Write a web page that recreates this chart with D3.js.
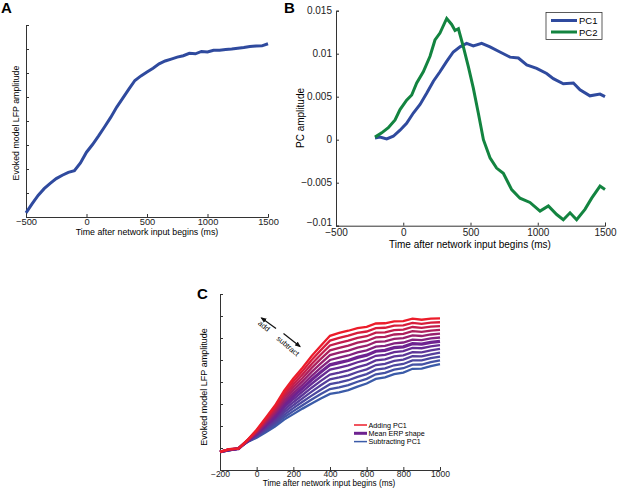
<!DOCTYPE html>
<html>
<head>
<meta charset="utf-8">
<script src="https://cdn.jsdelivr.net/npm/d3@7"></script>
<style>
  body { margin: 0; background: #fff; }
  svg { font-family: "Liberation Sans", Arial, sans-serif; display: block; }
  .axis path, .axis line { stroke: #333; }
  .axis text { fill: #222; }
</style>
</head>
<body>
<svg width="617" height="488"></svg>
<script>
// Panel A: evoked model LFP (arbitrary units, tick steps)
var aTimes  = [-500, -450, -400, -350, -300, -250, -200, -150, -100, -50, 0, 50, 100, 150, 200, 250, 300, 350, 400, 450, 500,
               550, 600, 650, 700, 750, 800, 850, 900, 950, 1000, 1050, 1100, 1150, 1200, 1250, 1300, 1350, 1400, 1450, 1500];
var aValues = [0.17, 0.55, 0.9, 1.18, 1.4, 1.6, 1.74, 1.86, 1.93, 2.25, 2.7, 3.02, 3.38, 3.76, 4.15, 4.58, 4.95, 5.33, 5.69, 5.88, 6.04,
               6.2, 6.38, 6.5, 6.58, 6.66, 6.72, 6.82, 6.8, 6.9, 6.88, 6.95, 6.95, 6.98, 7.0, 7.03, 7.06, 7.1, 7.12, 7.13, 7.22];

// Panel B: principal components
var bTimes = [-210, -173, -123, -74, -24, 25, 75, 125, 174, 224, 273, 323, 372, 422, 471, 521, 583, 645, 719, 794, 856, 918,
              992, 1066, 1116, 1190, 1265, 1314, 1388, 1463, 1500];
var pc1 = [0.0002, 0.0003, 0.0001, 0.0004, 0.0011, 0.0019, 0.0031, 0.0041, 0.0054, 0.0068, 0.0079, 0.0091, 0.0102, 0.0108, 0.0112,
           0.0109, 0.0112, 0.0108, 0.0102, 0.0096, 0.0095, 0.0087, 0.0083, 0.0077, 0.0071, 0.0065, 0.0066, 0.0058, 0.0051, 0.0053, 0.0050];
var pc2Times = [-210, -160, -111, -61, -24, 25, 63, 100, 149, 199, 236, 273, 323, 360, 385, 410, 447, 484, 521, 558, 596, 645, 694,
                744, 806, 868, 942, 1017, 1079, 1141, 1190, 1240, 1289, 1351, 1401, 1463, 1500];
var pc2 = [0.0003, 0.0008, 0.0014, 0.0023, 0.0035, 0.0046, 0.0052, 0.0066, 0.0079, 0.0097, 0.0116, 0.0124, 0.0141, 0.0134, 0.0127,
           0.0129, 0.0108, 0.0085, 0.0060, 0.0031, 0.0, -0.0021, -0.0033, -0.0039, -0.0058, -0.0068, -0.0073, -0.0083, -0.0077,
           -0.0087, -0.0093, -0.0085, -0.0093, -0.0081, -0.0068, -0.0054, -0.0058];
var bYTicks = [-0.01, -0.005, 0, 0.005, 0.01, 0.015];
var bYLabels = ["\u22120.01", "\u22120.005", "0", "0.005", "0.01", "0.015"];

// Panel C: mean ERP shape and the PC1 step added / subtracted
var cTimes = [-200, -150, -100, -75, -50, 0, 50, 100, 150, 200, 250, 300, 350, 400, 450, 500, 550, 600, 650, 700, 750, 800,
              850, 900, 950, 1000];
var cMean = [0.82, 0.92, 0.97, 1.15, 1.32, 1.65, 2.05, 2.45, 2.95, 3.35, 3.72, 4.1, 4.45, 4.78, 4.88, 4.98, 5.12, 5.22, 5.4, 5.44,
             5.56, 5.6, 5.74, 5.72, 5.8, 5.85];
var cStep = [0, 0.005, 0, 0.003, 0.008, 0.03, 0.055, 0.08, 0.11, 0.135, 0.155, 0.18, 0.2, 0.22, 0.225, 0.225, 0.222, 0.215, 0.21,
             0.205, 0.2, 0.195, 0.19, 0.185, 0.18, 0.173];
var cWeights = [-6, -5, -4, -3, -2, -1, 0, 1, 2, 3, 4, 5, 6];
var cLegend = ["Adding PC1", "Mean ERP shape", "Subtracting PC1"];

var xTicksAB = [-500, 0, 500, 1000, 1500];
var xTicksC = [-200, 0, 200, 400, 600, 800, 1000];

var blue = "#2f4a9e", green = "#138440";
var red = "#ec1c2a", purple = "#6e2390", cblue = "#3b5ba8";

var svg = d3.select("svg");
var fmt = d => d < 0 ? "\u2212" + Math.abs(d) : String(d);

// ---------- Panel A ----------
var xA = d3.scaleLinear().domain([-500, 1500]).range([26, 268]);
var yA = d3.scaleLinear().domain([0, 8]).range([217, 25]);

svg.append("g").attr("class", "axis")
    .attr("transform", "translate(0,217)")
    .call(d3.axisBottom(xA).tickValues(xTicksAB).tickFormat(fmt).tickSize(-3).tickPadding(1.5))
    .call(g => g.selectAll("text").style("font-size", "9.3px"));
svg.append("g").attr("class", "axis")
    .attr("transform", "translate(26,0)")
    .call(d3.axisLeft(yA).ticks(8).tickFormat("").tickSize(-3));

svg.append("path")
    .datum(aTimes.map((t, i) => [t, aValues[i]]))
    .attr("fill", "none").attr("stroke", blue).attr("stroke-width", 3)
    .attr("d", d3.line().x(d => xA(d[0])).y(d => yA(d[1])));

svg.append("text").attr("x", 147).attr("y", 235).attr("text-anchor", "middle")
    .style("font-size", "8.8px").text("Time after network input begins (ms)");
svg.append("text").attr("transform", "translate(19,123) rotate(-90)").attr("text-anchor", "middle")
    .style("font-size", "8.8px").text("Evoked model LFP amplitude");
svg.append("text").attr("x", 1).attr("y", 13).style("font-size", "15px").style("font-weight", "bold").text("A");

// ---------- Panel B ----------
var xB = d3.scaleLinear().domain([-500, 1500]).range([336, 605]);
var yB = d3.scaleLinear().domain([-0.01, 0.015]).range([225.7, 10.7]);

svg.append("g").attr("class", "axis")
    .attr("transform", "translate(0,225.7)")
    .call(d3.axisBottom(xB).tickValues(xTicksAB).tickFormat(fmt).tickSize(-3).tickPadding(3.5))
    .call(g => g.selectAll("text").style("font-size", "10px"));
svg.append("g").attr("class", "axis")
    .attr("transform", "translate(336,0)")
    .call(d3.axisLeft(yB).tickValues(bYTicks).tickFormat((d, i) => bYLabels[i]).tickSize(-3).tickPadding(4))
    .call(g => g.selectAll("text").style("font-size", "10px"))
    // lowest label sits just above the x tick labels, as in the original
    .call(g => g.selectAll(".tick text").filter(d => d === -0.01).attr("dy", "-0.05em"));

var lineB = d3.line().x(d => xB(d[0])).y(d => yB(d[1]));
svg.append("path").datum(bTimes.map((t, i) => [t, pc1[i]]))
    .attr("fill", "none").attr("stroke", blue).attr("stroke-width", 3).attr("d", lineB);
svg.append("path").datum(pc2Times.map((t, i) => [t, pc2[i]]))
    .attr("fill", "none").attr("stroke", green).attr("stroke-width", 3).attr("d", lineB);

svg.append("text").attr("x", 470).attr("y", 247.5).attr("text-anchor", "middle")
    .style("font-size", "10px").text("Time after network input begins (ms)");
svg.append("text").attr("transform", "translate(304,118) rotate(-90)").attr("text-anchor", "middle")
    .style("font-size", "10px").text("PC amplitude");
svg.append("text").attr("x", 284).attr("y", 13).style("font-size", "15px").style("font-weight", "bold").text("B");

// legend B
svg.append("rect").attr("x", 546).attr("y", 12.5).attr("width", 56).attr("height", 27)
    .attr("fill", "#fff").attr("stroke", "#333").attr("stroke-width", 0.8);
[["PC1", blue], ["PC2", green]].forEach((e, i) => {
    var yy = 20.5 + i * 11.5;
    svg.append("line").attr("x1", 551).attr("x2", 577).attr("y1", yy).attr("y2", yy)
        .attr("stroke", e[1]).attr("stroke-width", 3);
    svg.append("text").attr("x", 579).attr("y", yy + 3.5).style("font-size", "9.5px").text(e[0]);
});

// ---------- Panel C ----------
var xC = d3.scaleLinear().domain([-200, 1000]).range([220, 440]);
var yC = d3.scaleLinear().domain([0, 8]).range([470, 294]);

svg.append("g").attr("class", "axis")
    .attr("transform", "translate(0,470)")
    .call(d3.axisBottom(xC).tickValues(xTicksC).tickFormat(fmt).tickSize(-3).tickPadding(1))
    .call(g => g.selectAll("text").style("font-size", "8.5px"));
svg.append("g").attr("class", "axis")
    .attr("transform", "translate(220,0)")
    .call(d3.axisLeft(yC).ticks(8).tickFormat("").tickSize(-3));

var lineC = d3.line().x(d => xC(d[0])).y(d => yC(d[1]));
var colC = function(w) {
    return w >= 0 ? d3.interpolateRgb(purple, red)(w / 6) : d3.interpolateRgb(purple, cblue)(-w / 6);
};
cWeights.forEach(w => {
    svg.append("path")
        .datum(cTimes.map((t, i) => [t, cMean[i] + w * cStep[i]]))
        .attr("fill", "none")
        .attr("stroke", colC(w))
        .attr("stroke-width", w === 0 ? 3.2 : 2.3)
        .attr("d", lineC);
});

svg.append("text").attr("x", 329).attr("y", 485.5).attr("text-anchor", "middle")
    .style("font-size", "8.2px").text("Time after network input begins (ms)");
svg.append("text").attr("transform", "translate(207,387) rotate(-90)").attr("text-anchor", "middle")
    .style("font-size", "9px").text("Evoked model LFP amplitude");
svg.append("text").attr("x", 197).attr("y", 299).style("font-size", "15px").style("font-weight", "bold").text("C");

// add / subtract arrows
svg.append("defs").append("marker").attr("id", "ah").attr("viewBox", "0 0 10 10")
    .attr("refX", 8).attr("refY", 5).attr("markerWidth", 5).attr("markerHeight", 5).attr("orient", "auto")
    .append("path").attr("d", "M0,1L10,5L0,9z").attr("fill", "#111");
svg.append("line").attr("x1", 276).attr("y1", 328.5).attr("x2", 261.5).attr("y2", 318)
    .attr("stroke", "#111").attr("stroke-width", 1.2).attr("marker-end", "url(#ah)");
svg.append("line").attr("x1", 283.5).attr("y1", 333.5).attr("x2", 300).attr("y2", 346.5)
    .attr("stroke", "#111").attr("stroke-width", 1.2).attr("marker-end", "url(#ah)");
svg.append("text").attr("transform", "translate(264,326) rotate(40)").attr("text-anchor", "middle")
    .attr("dy", "0.35em").style("font-size", "7.5px").text("add");
svg.append("text").attr("transform", "translate(288,346) rotate(40)").attr("text-anchor", "middle")
    .attr("dy", "0.35em").style("font-size", "7.5px").text("subtract");

// legend C
[[cLegend[0], red, 1.5], [cLegend[1], purple, 3], [cLegend[2], cblue, 1.5]].forEach((e, i) => {
    var yy = 425 + i * 8.3;
    svg.append("line").attr("x1", 354).attr("x2", 367).attr("y1", yy).attr("y2", yy)
        .attr("stroke", e[1]).attr("stroke-width", e[2]);
    svg.append("text").attr("x", 368.5).attr("y", yy + 2.5).style("font-size", "7.2px").text(e[0]);
});
</script>
</body>
</html>
